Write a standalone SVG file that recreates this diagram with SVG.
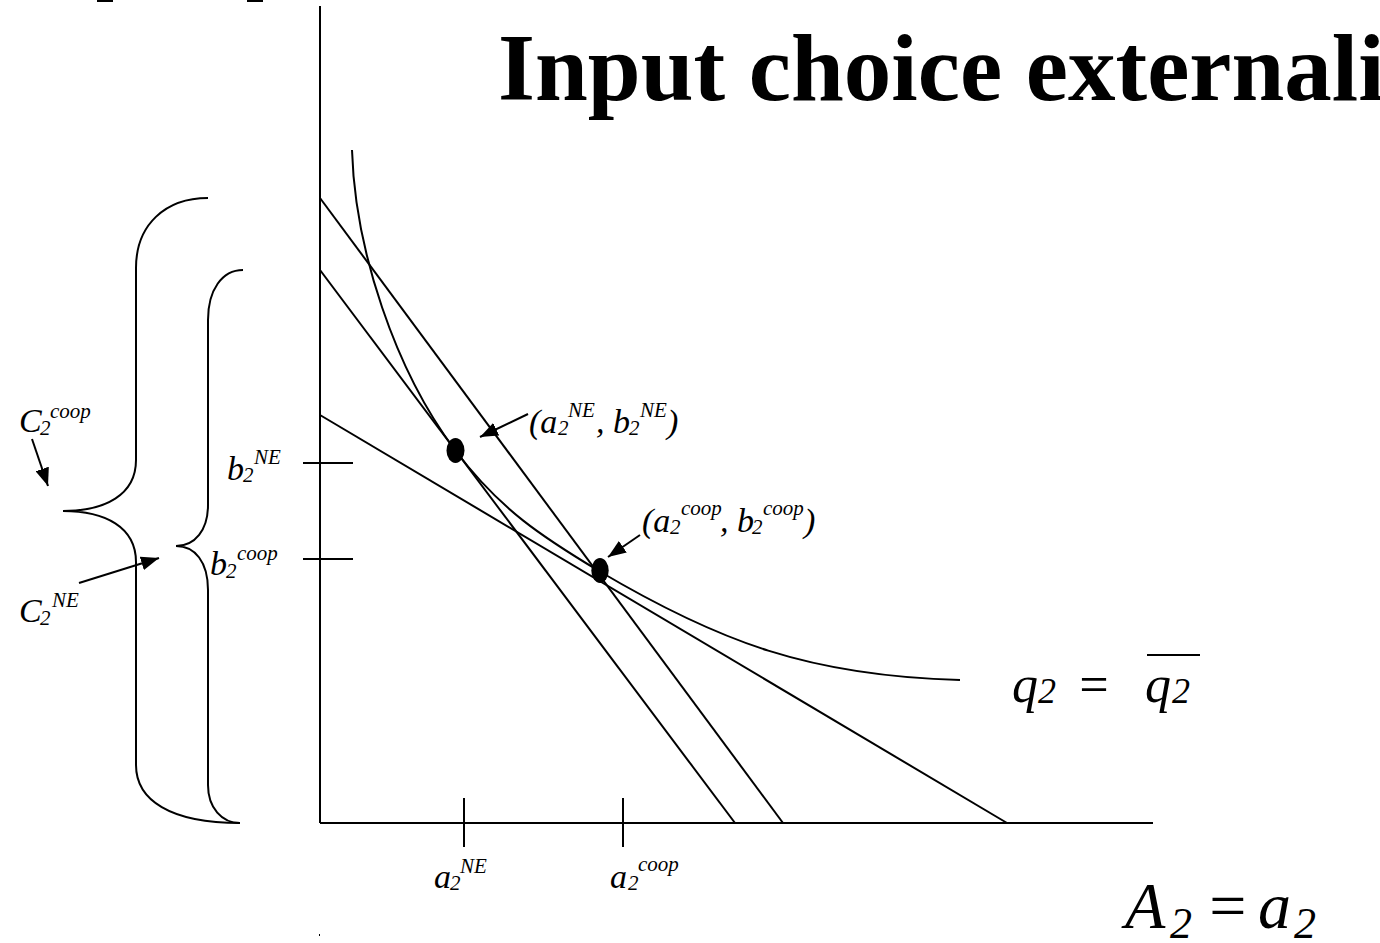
<svg xmlns="http://www.w3.org/2000/svg" width="1380" height="943" viewBox="0 0 1380 943">
<defs>
<style>
.ln{stroke:#000;stroke-width:2;fill:none}
.t{font-family:"Liberation Serif","Times New Roman",serif;font-style:italic;fill:#000}
.r{font-family:"Liberation Serif","Times New Roman",serif;fill:#000}
.b{font-size:34px}
.s{font-size:21px}
</style>
<marker id="ah" markerUnits="userSpaceOnUse" markerWidth="18" markerHeight="14" refX="18" refY="7" orient="auto">
<path d="M0,0 L18,7 L0,14 z" fill="#000"/>
</marker>
</defs>
<rect width="1380" height="943" fill="#fff"/>
<rect x="97" y="0" width="16" height="2" fill="#000"/>
<rect x="247" y="0" width="16" height="2" fill="#000"/>
<rect x="319" y="934" width="1" height="2" fill="#000"/>

<g id="title">
<text class="r" x="498" y="100" font-size="95" font-weight="bold">Input choice externalities</text>
</g>

<g id="axes">
<line class="ln" x1="320" y1="6" x2="320" y2="823"/>
<line class="ln" x1="320" y1="823" x2="1153" y2="823"/>
<line class="ln" x1="303" y1="463" x2="353" y2="463"/>
<line class="ln" x1="303" y1="559" x2="353" y2="559"/>
<line class="ln" x1="464" y1="798" x2="464" y2="847"/>
<line class="ln" x1="623" y1="798" x2="623" y2="847"/>
</g>

<g id="lines">
<line class="ln" x1="320" y1="198" x2="783" y2="823"/>
<line class="ln" x1="320" y1="270" x2="735" y2="823"/>
<line class="ln" x1="320" y1="415" x2="1007" y2="823"/>
</g>

<g id="isoquant">
<path class="ln" d="M352,150 C355,250 395,370 455,450 C500,510 544,538 599,571 C719,642 810,676 960,680"/>
</g>

<g id="points">
<ellipse cx="455.5" cy="450.5" rx="9" ry="12.5" fill="#000"/>
<ellipse cx="600" cy="570.5" rx="8.7" ry="12.5" fill="#000"/>
</g>

<g id="braces">
<path class="ln" d="M208,198 C165,198 136,225 136,268 L136,460 C136,495 105,511 63,511 C105,511 136,527 136,562 L136,765 C136,800 170,823 240,823"/>
<path class="ln" d="M243,270 C222,270 208,290 208,320 L208,505 C208,530 195,546 176,546 C195,546 208,562 208,590 L208,785 C208,808 222,823 240,823"/>
</g>

<g id="connectors">
<line class="ln" x1="32" y1="439" x2="48" y2="486" marker-end="url(#ah)"/>
<line class="ln" x1="79" y1="583" x2="159" y2="558" marker-end="url(#ah)"/>
<line class="ln" x1="528" y1="414" x2="480" y2="437" marker-end="url(#ah)"/>
<line class="ln" x1="640" y1="535" x2="608" y2="557" marker-end="url(#ah)"/>
</g>

<g id="label-c2coop">
<text class="t"><tspan class="b" x="19" y="432">C</tspan><tspan class="s" x="40" y="435">2</tspan><tspan class="s" x="50" y="418">coop</tspan></text>
</g>
<g id="label-c2ne">
<text class="t"><tspan class="b" x="19" y="622">C</tspan><tspan class="s" x="40" y="625">2</tspan><tspan class="s" x="52" y="607">NE</tspan></text>
</g>
<g id="label-b2ne">
<text class="t"><tspan class="b" x="227" y="480">b</tspan><tspan class="s" x="243" y="482">2</tspan><tspan class="s" x="254" y="464">NE</tspan></text>
</g>
<g id="label-b2coop">
<text class="t"><tspan class="b" x="210" y="575">b</tspan><tspan class="s" x="226" y="578">2</tspan><tspan class="s" x="237" y="560">coop</tspan></text>
</g>
<g id="label-ne-point">
<text class="t"><tspan class="b" x="529" y="433">(a</tspan><tspan class="s" x="558" y="435">2</tspan><tspan class="s" x="568" y="417">NE</tspan><tspan class="b" x="596" y="433">, b</tspan><tspan class="s" x="629" y="435">2</tspan><tspan class="s" x="640" y="417">NE</tspan><tspan class="b" x="667" y="433">)</tspan></text>
</g>
<g id="label-coop-point">
<text class="t"><tspan class="b" x="642" y="532">(a</tspan><tspan class="s" x="670" y="534">2</tspan><tspan class="s" x="681" y="515">coop</tspan><tspan class="b" x="720" y="532">, b</tspan><tspan class="s" x="752" y="534">2</tspan><tspan class="s" x="763" y="515">coop</tspan><tspan class="b" x="804" y="532">)</tspan></text>
</g>
<g id="label-a2ne">
<text class="t"><tspan class="b" x="434" y="888">a</tspan><tspan class="s" x="450" y="890">2</tspan><tspan class="s" x="460" y="873">NE</tspan></text>
</g>
<g id="label-a2coop">
<text class="t"><tspan class="b" x="610" y="888">a</tspan><tspan class="s" x="628" y="890">2</tspan><tspan class="s" x="638" y="871">coop</tspan></text>
</g>

<g id="label-q2">
<text class="t" font-size="52"><tspan x="1012" y="702">q</tspan><tspan class="r" font-size="36" x="1038" y="703">2</tspan><tspan class="r" x="1076" y="702">=</tspan><tspan x="1145" y="702">q</tspan><tspan class="r" font-size="36" x="1172" y="703">2</tspan></text>
<line class="ln" x1="1147" y1="655" x2="1200" y2="655"/>
</g>

<g id="label-a2">
<text class="t" font-size="66"><tspan x="1125" y="928">A</tspan><tspan font-size="44" class="r" x="1170" y="938">2</tspan><tspan class="r" x="1205" y="928">=</tspan><tspan x="1258" y="928">a</tspan><tspan font-size="44" class="r" x="1294" y="938">2</tspan></text>
</g>
</svg>
